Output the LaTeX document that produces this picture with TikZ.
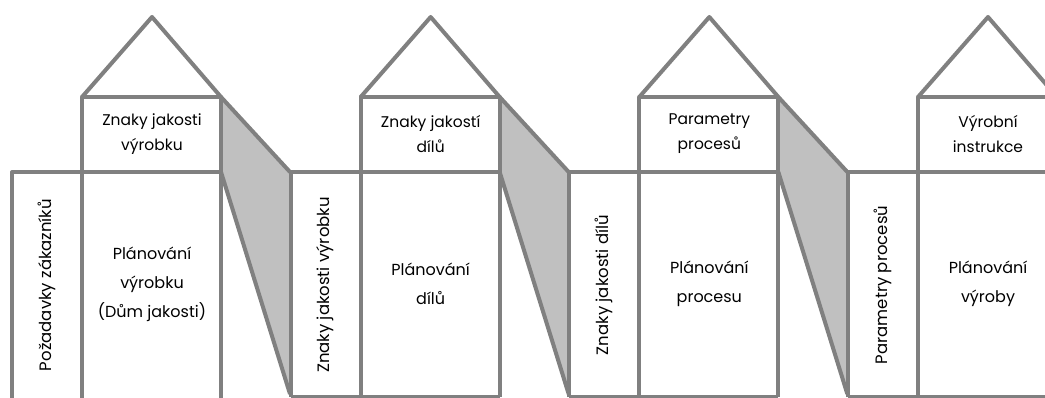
\documentclass[tikz,border=0pt]{standalone}
\usepackage{fontspec}
\setmainfont{Poppins}
\definecolor{linegray}{RGB}{128,128,128}
\definecolor{fillgray}{RGB}{192,192,192}
\begin{document}
\begin{tikzpicture}[x=1pt,y=-1pt,
  wall/.style={draw=linegray, line width=4pt, line join=round},
  band/.style={fill=fillgray},
  captext/.style={font=\fontsize{15.5}{25}\selectfont, align=center, inner sep=0pt},
  maintext/.style={font=\fontsize{16}{29}\selectfont, align=center, inner sep=0pt},
  sidetext/.style={font=\fontsize{16.5}{18}\selectfont, rotate=90, inner sep=0pt}]
\useasboundingbox (0,0) rectangle (1045,398);
\clip (0,0) rectangle (1045,398);
\foreach \i/\side/\cap/\main in {%
  0/{Požadavky zákazníků}/{Znaky jakosti\\výrobku}/{Plánování\\výrobku\\(Dům jakosti)},%
  1/{Znaky jakosti výrobku}/{Znaky jakostí\\dílů}/{Plánování\\dílů},%
  2/{Znaky jakosti dílů}/{Parametry\\procesů}/{Plánování\\procesu},%
  3/{Parametry procesů}/{Výrobní\\instrukce}/{Plánování\\výroby}}{
  \pgfmathsetmacro\X{12+278.67*\i}
  \pgfmathsetmacro\B{\i==0 ? 402 : 397}
  % shaded transition band towards the next house
  \ifnum\i<3
    \fill[band] ({\X+209},97) -- ({\X+278},172) -- ({\X+278},394) -- ({\X+209},172) -- cycle;
    \draw[wall] ({\X+209},172) -- ({\X+278},394);
  \fi
  % columns and roof box
  \draw[wall] ({\X},\B) -- ({\X},172) -- ({\X+209},172);
  \draw[wall] ({\X+70},\B) -- ({\X+70},97) -- ({\X+209},97) -- ({\X+209},\B);
  \draw[wall] ({\X},\B) -- ({\X+209},\B);
  % roof
  \draw[wall] ({\X+70},97) -- ({\X+140},17) -- ({\X+209},97) -- ({\X+278},172);
  % labels
  \node[sidetext] (side\i) at ({\X+35},285) {\side};
  \node[captext] (cap\i) at ({\X+140},134) {\cap};
  \node[maintext] (main\i) at ({\X+140},284) {\main};
}
\end{tikzpicture}
\end{document}
